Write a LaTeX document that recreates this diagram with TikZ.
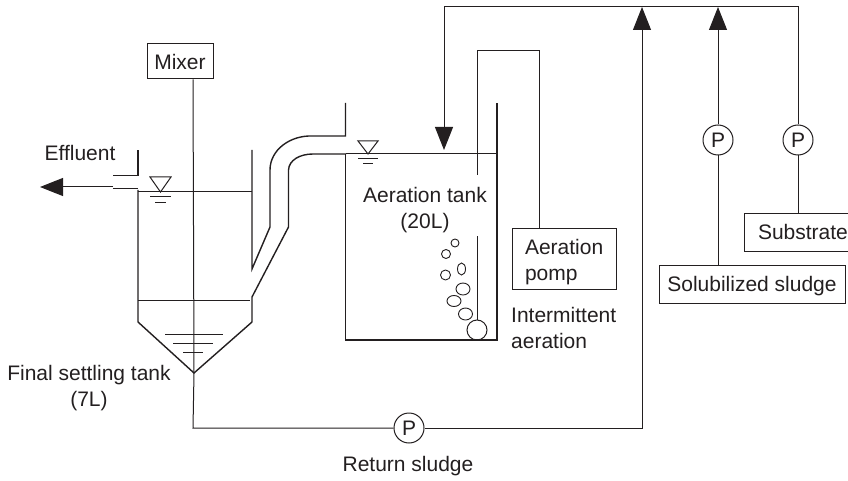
\documentclass[tikz,border=0pt]{standalone}
\usepackage{xcolor}
\usepackage{fontspec}
\setmainfont{Liberation Sans}
\usepackage{tikz}
\usetikzlibrary{arrows.meta, positioning, calc}
\definecolor{inkline}{HTML}{231F20}
\tikzstyle{unit} = [rectangle, draw=inkline, line width=1pt, inner sep=0pt, text=inkline]
\tikzstyle{pump} = [circle, draw=inkline, line width=1pt, fill=white, minimum size=30pt, inner sep=0pt, text=inkline]
\tikzstyle{label} = [inner sep=0pt, align=center, text=inkline]
\tikzstyle{pipe} = [draw=inkline, line width=1pt]
\tikzstyle{wall} = [draw=inkline, line width=1.4pt]
\tikzstyle{arrow} = [pipe, -{Triangle[length=23pt,width=18pt]}]
\tikzstyle{bubble} = [draw=inkline, line width=0.9pt, fill=white]

\begin{document}
\begin{tikzpicture}[x=1pt, y=-1pt, font=\fontsize{21}{26}\selectfont]
\useasboundingbox (0,0) rectangle (848,481);

\coordinate (tipL) at (194,373);
\coordinate (feedTop) at (444,7);
\coordinate (feedEnd) at (444,150);
\coordinate (returnEnd) at (642,7);
\coordinate (solEnd) at (718,7);
\coordinate (subTop) at (798,7);
\coordinate (returnLow) at (193,428);
\coordinate (shaftTop) at (193,79);
\coordinate (effluentEnd) at (40,187);
\coordinate (outlet) at (113,187);
\coordinate (airCorner) at (539,51);
\coordinate (airTop) at (477,51);
\coordinate (airGapA) at (477,175);
\coordinate (airGapB) at (477,236);

% units
\node (mixer) [unit, minimum width=66pt, minimum height=35pt] at (180,61.5) {Mixer};
\node (pomp) [unit, minimum width=104pt, minimum height=61pt, text width=78pt, align=left] at (564,258.5) {\rule{0pt}{23pt}Aeration\\pomp};
\node (sol) [unit, minimum width=186pt, minimum height=38pt, text depth=0pt] at (752,284) {Solubilized sludge};
\node (sub) [unit, minimum width=130pt, minimum height=38pt, text width=102pt, align=left] at (809,232) {Substrate};
\node (pumpS) [pump] at (718,140) {P};
\node (pumpW) [pump] at (798,140) {P};
\node (pumpR) [pump] at (409,428) {P};
\node (diffuser) [circle, draw=inkline, line width=1pt, minimum size=20pt, inner sep=0pt] at (477,330) {};

% texts
\node (effluent) [label] at (80,153) {Effluent};
\node (settling) [label] at (89,388) {Final settling tank\\(7L)};
\node (aeration) [label] at (425,210) {Aeration tank\\(20L)};
\node (intermittent) [label, align=left, anchor=west] at (511,328) {Intermittent\\aeration};
\node (returnText) [label] at (408,466) {Return sludge};

% final settling tank
\draw [wall] (138,190) -- (138,322) -- (tipL) -- (252,322) -- (252,297) -- (288.5,227) -- (288.5,170)
  .. controls (289,160) and (300,154) .. (313,154) -- (346,154);
\draw [wall] (252,150) -- (252,269) -- (270,227) -- (270,170)
  .. controls (270,150) and (290,135) .. (313,136) -- (345.5,136) -- (345.5,103);
\draw [wall] (113,175.5) -- (138,175.5) -- (138,150);
\draw [wall] (113,188.5) -- (138,188.5);
\draw [pipe] (138,192) -- (252,192);
\draw [pipe] (138,300) -- (250,300);
\draw [pipe] (165,334) -- (223,334);
\draw [pipe] (173,343.5) -- (213,343.5);
\draw [pipe] (183,352) -- (203,352);
\draw [pipe] (150,177) -- (171,177) -- (160.5,192) -- cycle;
\draw [pipe] (150,197) -- (171,197);
\draw [pipe] (155,202) -- (166,202);

% aeration tank
\draw [wall] (345.5,154) -- (345.5,340) -- (497,340) -- (497,103);
\draw [pipe] (345.5,154) -- (497,154);
\draw [pipe] (358,141) -- (378,141) -- (368,154) -- cycle;
\draw [pipe] (358,159) -- (378,159);
\draw [pipe] (363,164) -- (373,164);
\draw [pipe] (pomp.north -| airCorner) -- (airCorner) -- (airTop) -- (airGapA);
\draw [pipe] (airGapB) -- (diffuser);
\draw [bubble] (455,243) circle [radius=4];
\draw [bubble] (446,254) circle [radius=4.5];
\draw [bubble] (445.5,275) circle [radius=5];
\draw [bubble] (461.5,269) ellipse [x radius=4, y radius=6];
\draw [bubble] (463,289) ellipse [x radius=7, y radius=6];
\draw [bubble] (454,301) ellipse [x radius=7, y radius=5.5];
\draw [bubble] (465.5,314) ellipse [x radius=7, y radius=6];

% flows
\draw [pipe] (mixer.south -| shaftTop) -- (tipL);
\draw [pipe] (tipL) -- (returnLow) -- (pumpR);
\draw [arrow] (pumpR) -| (returnEnd);
\draw [arrow] (sol.north -| pumpS) -- (pumpS) -- (solEnd);
\draw [pipe] (sub.north -| pumpW) -- (pumpW) -- (subTop) -- (feedTop);
\draw [arrow] (feedTop) -- (feedEnd);
\draw [arrow] (outlet) -- (effluentEnd);

\end{tikzpicture}
\end{document}
